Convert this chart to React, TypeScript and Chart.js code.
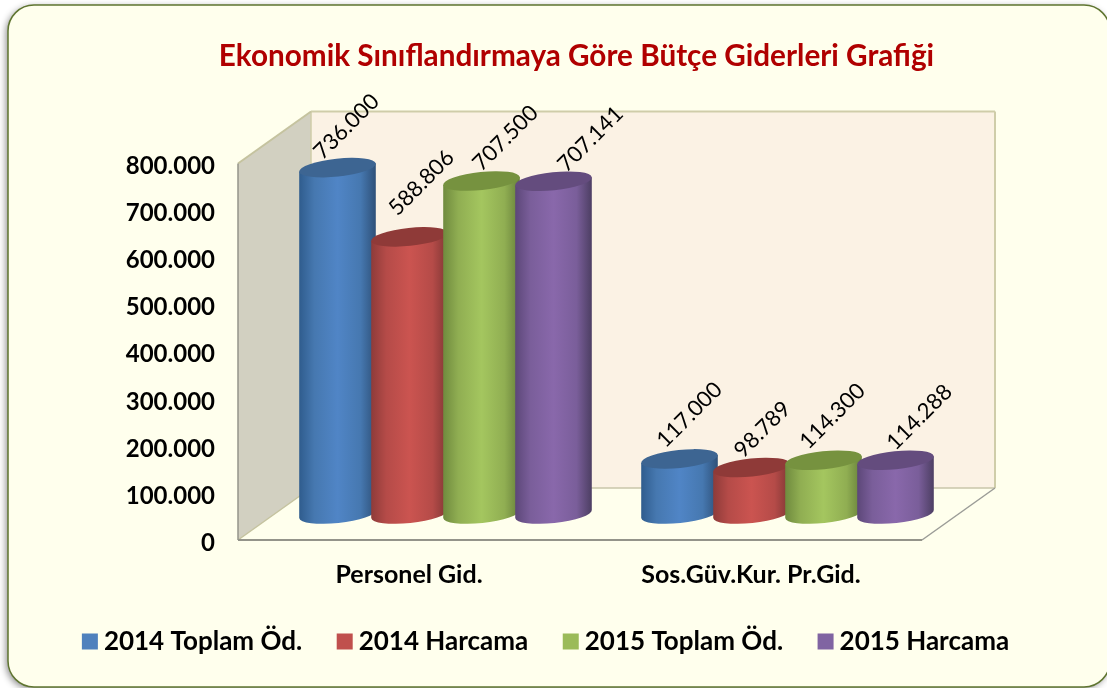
import React, { useEffect, useRef } from "react";
import { Chart, registerables } from "chart.js";

Chart.register(...registerables);

const categories = ["Personel Gid.", "Sos.Güv.Kur. Pr.Gid."];
const seriesNames = ["2014 Toplam Öd.", "2014 Harcama", "2015 Toplam Öd.", "2015 Harcama"];
const toplam2014 = [736000, 117000];
const harcama2014 = [588806, 98789];
const toplam2015 = [707500, 114300];
const harcama2015 = [707141, 114288];
const seriesValues = [toplam2014, harcama2014, toplam2015, harcama2015];

const legendColors = ["#4F81BD", "#C0504D", "#9BBB59", "#8064A2"];
const faceColors = ["#5085C6", "#CB5450", "#A4C65F", "#8968AB"];
const edgeLeft = ["#2F5C8D", "#8E3B39", "#6F8A3E", "#5C4778"];
const edgeRight = ["#2E5078", "#7E3634", "#667F3A", "#4C3E62"];
const midTones = ["#4678B0", "#B54B48", "#90AE52", "#7A5E9A"];
const capColors = ["#3D6592", "#8F3A38", "#76923F", "#644C7E"];
const labelNudgeX = [[9, 12, 24, 37], [10, 11, 9, 24]];
const labelNudgeY = [[-41, -54, -43, -42], [-44, -38, -44, -43]];

const fmt = (v: number) => String(v).replace(/\B(?=(\d{3})+(?!\d))/g, ".");
const FONT = "Lato";
const DEPTH_X = 73;
const DEPTH_Y = 52;
const TILT = (-6 * Math.PI) / 180;
const CAP_RY = 9;

const framePlugin = {
  id: "frame",
  beforeDraw(chart: any) {
    const c = chart.ctx;
    c.save();
    c.fillStyle = "#FFFFFF";
    c.fillRect(0, 0, chart.width, chart.height);
    c.beginPath();
    c.roundRect(8, 5, 1102, 682, 26);
    c.shadowColor = "rgba(0,0,0,0.45)";
    c.shadowBlur = 7;
    c.shadowOffsetX = -2;
    c.shadowOffsetY = 2;
    c.fillStyle = "#FFFFED";
    c.fill();
    c.shadowColor = "transparent";
    c.lineWidth = 1.5;
    c.strokeStyle = "#5F7530";
    c.stroke();
    c.restore();
  },
  afterLayout(chart: any) {
    const t = chart.titleBlock;
    t.left += 23; t.right += 23;
    const h = t.bottom - t.top;
    t.top = 38; t.bottom = 38 + h;
    const l = chart.legend;
    l.left -= 4.5; l.right -= 4.5;
    const lh = l.bottom - l.top;
    l.top = 587; l.bottom = 587 + lh;
  },
};

const wallsPlugin = {
  id: "walls",
  beforeDatasetsDraw(chart: any) {
    const c = chart.ctx;
    const { left, right, top, bottom } = chart.chartArea;
    const poly = (pts: number[][], fill: string) => {
      c.beginPath();
      pts.forEach((p, i) => (i ? c.lineTo(p[0], p[1]) : c.moveTo(p[0], p[1])));
      c.closePath();
      c.fillStyle = fill;
      c.fill();
    };
    const seg = (a: number[], b: number[], stroke: string, lw: number) => {
      c.beginPath(); c.moveTo(a[0], a[1]); c.lineTo(b[0], b[1]);
      c.strokeStyle = stroke; c.lineWidth = lw; c.stroke();
    };
    const bx = left + DEPTH_X, rx = right + DEPTH_X, ty = top - DEPTH_Y, by = bottom - DEPTH_Y;
    c.save();
    poly([[bx, ty], [rx, ty], [rx, by], [bx, by]], "#FBF2E4");
    poly([[left, top], [bx, ty], [bx, by], [left, bottom]], "#D2D0C1");
    seg([bx, ty], [rx, ty], "#CFCDA9", 2);
    seg([rx, ty], [rx, by], "#CFCDA9", 2);
    seg([bx, by], [rx, by], "#C8C6AA", 1.5);
    seg([bx, ty], [bx, by], "#CFCDA9", 1.5);
    seg([left, top], [bx, ty], "#C5C39F", 2);
    seg([left, bottom], [bx, by], "#C5C39F", 1.5);
    seg([right, bottom], [rx, by], "#9B9C97", 1.5);
    seg([left, top], [left, bottom], "#94948A", 1.5);
    seg([left, bottom], [right, bottom], "#94948A", 2);
    c.restore();
  },
  afterDatasetsDraw(chart: any) {
    const c = chart.ctx;
    chart.data.datasets.forEach((ds: any, di: number) => {
      const meta = chart.getDatasetMeta(di);
      meta.data.forEach((bar: any) => {
        const cx = bar.x + DEPTH_X / 2;
        const rx = (bar.width * 77) / 72 / 2;
        const topY = bar.y - DEPTH_Y / 2;
        const baseY = bar.base - DEPTH_Y / 2;
        const dx = rx * Math.cos(TILT);
        const dy = rx * Math.sin(TILT);
        const g = c.createLinearGradient(cx - rx, 0, cx + rx, 0);
        g.addColorStop(0, edgeLeft[di]);
        g.addColorStop(0.2, midTones[di]);
        g.addColorStop(0.5, faceColors[di]);
        g.addColorStop(0.8, midTones[di]);
        g.addColorStop(1, edgeRight[di]);
        c.save();
        c.beginPath();
        c.moveTo(cx - dx, topY - dy);
        c.lineTo(cx - dx, baseY - dy);
        c.ellipse(cx, baseY, rx, CAP_RY, TILT, Math.PI, 0, true);
        c.lineTo(cx + dx, topY + dy);
        c.closePath();
        c.fillStyle = g;
        c.fill();
        c.beginPath();
        c.ellipse(cx, topY, rx, CAP_RY, TILT, 0, Math.PI * 2);
        c.fillStyle = capColors[di];
        c.fill();
        c.restore();
      });
    });
    chart.data.datasets.forEach((ds: any, di: number) => {
      const meta = chart.getDatasetMeta(di);
      meta.data.forEach((bar: any, i: number) => {
        c.save();
        c.translate(bar.x + DEPTH_X / 2 + labelNudgeX[i][di], bar.y - DEPTH_Y / 2 + labelNudgeY[i][di]);
        c.rotate(-Math.PI / 4);
        c.font = `22px ${FONT}`;
        c.fillStyle = "#000000";
        c.textAlign = "center";
        c.textBaseline = "middle";
        c.fillText(fmt(ds.data[i]), 0, 0);
        c.restore();
      });
    });
  },
};

export default function App() {
  const ref = useRef<HTMLCanvasElement | null>(null);
  useEffect(() => {
    document.body.style.margin = "0";
    const chart = new Chart(ref.current as HTMLCanvasElement, {
      type: "bar",
      data: {
        labels: categories,
        datasets: seriesNames.map((name, i) => ({
          label: name,
          data: seriesValues[i],
          backgroundColor: "rgba(0,0,0,0)",
          borderWidth: 0,
          barPercentage: 1,
          categoryPercentage: 288 / 342,
        })),
      },
      options: {
        responsive: false,
        animation: false,
        layout: { padding: { top: 127.5, right: 0, left: 0, bottom: 0 } },
        scales: {
          x: {
            grid: { display: false, drawTicks: false },
            border: { display: false },
            ticks: { color: "#000000", padding: 20, maxRotation: 0, autoSkip: false, font: { family: FONT, size: 25, weight: "bold" } },
            afterFit(scale: any) { scale.height = 148 - (scale.chart.legend?.height ?? 49); },
          },
          y: {
            min: 0,
            max: 800000,
            grid: { display: false, drawTicks: false },
            border: { display: false },
            ticks: {
              stepSize: 100000,
              color: "#000000",
              padding: 23,
              labelOffset: 3,
              font: { family: FONT, size: 24, weight: "bold" },
              callback: (v: any) => fmt(Number(v)),
            },
            afterFit(scale: any) { scale.width = 238; },
          },
          spacer: {
            position: "right",
            grid: { display: false, drawTicks: false },
            border: { display: false },
            ticks: { display: false },
            afterFit(scale: any) { scale.width = 185; },
          },
        },
        plugins: {
          tooltip: { enabled: false },
          title: {
            display: true,
            text: "Ekonomik Sınıflandırmaya Göre Bütçe Giderleri Grafiği",
            color: "#B00000",
            padding: 0,
            font: { family: FONT, size: 29.7, lineHeight: 36 / 29.7, weight: "bold" },
          },
          legend: {
            position: "bottom",
            labels: {
              color: "#000000",
              usePointStyle: true,
              boxWidth: 2,
              boxHeight: 16,
              padding: 41.5,
              font: { family: FONT, size: 26, weight: "bold" },
              generateLabels: () =>
                seriesNames.map((name, i) => ({
                  text: name,
                  fillStyle: legendColors[i],
                  strokeStyle: legendColors[i],
                  lineWidth: 0,
                  pointStyle: "rect",
                  datasetIndex: i,
                })),
            },
          },
        },
      },
      plugins: [framePlugin, wallsPlugin],
    } as any);
    return () => chart.destroy();
  }, []);
  return (
    <div style={{ position: "fixed", left: 0, top: 0, width: 1107, height: 688 }}>
      <canvas ref={ref} width={1107} height={688} style={{ display: "block" }} />
    </div>
  );
}
